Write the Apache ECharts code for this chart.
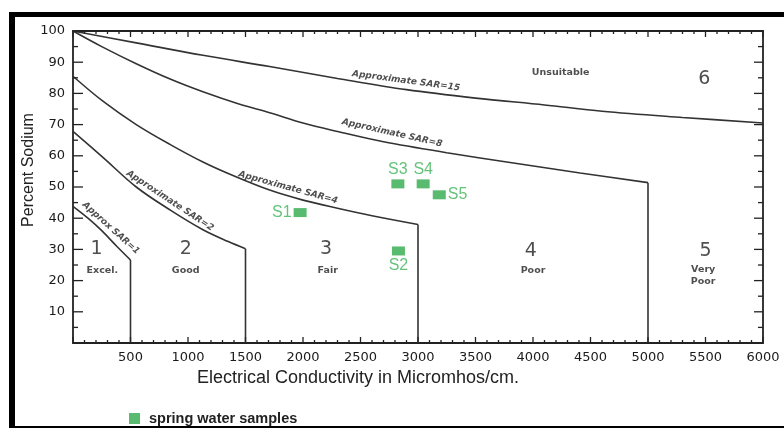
<!DOCTYPE html>
<html><head><meta charset="utf-8">
<script src="https://cdn.jsdelivr.net/npm/echarts@6/dist/echarts.min.js"></script>
<style>
html,body{margin:0;padding:0;background:#fff;overflow:hidden;width:784px;height:428px;}
#frame{position:absolute;left:9px;top:12px;width:800px;height:409px;border-top:5px solid #000;border-left:6px solid #000;border-bottom:2px solid #000;}
#chart{position:absolute;left:0;top:0;width:784px;height:428px;}
</style></head>
<body><div id="frame"></div><div id="chart"></div>
<script>
// Boundary curves (EC micromhos/cm, percent sodium)
const sar15 = [[0,100],[550,96.2],[1130,92.2],[1710,88.6],[2300,84.8],[2900,81.2],[3500,78.5],[4100,76.3],[4600,74.3],[5300,72.3],[6000,70.5]];
const sar8  = [[0,100],[250,95],[550,89.5],[850,84.5],[1130,80.5],[1450,76.5],[1710,73.8],[2000,70.5],[2300,67.8],[2700,64.5],[3250,61],[3830,57.7],[4410,54.5],[5000,51.4]];
const sar4  = [[0,85.5],[260,77.5],[550,70],[850,63.5],[1130,58],[1370,54],[1710,49],[2000,45.8],[2300,43.2],[2600,40.8],[3000,38]];
const sar2  = [[0,67.8],[260,59.5],[550,50],[850,42.5],[1130,36.3],[1350,32.5],[1500,30.2]];
const sar1  = [[0,43.8],[130,40],[250,36],[380,31],[500,26.6]];

// Spring water samples
const sampleNames = ['S1','S2','S3','S4','S5'];
const sampleEC    = [1975, 2830, 2825, 3045, 3185];
const sampleNa    = [41.8, 29.5, 51, 51, 47.5];
const samplePos   = ['left','bottom','top','top','right'];

// Axis ticks
const xMajorTicks = [0,500,1000,1500,2000,2500,3000,3500,4000,4500,5000,5500,6000];
const xMinorTicks = [100,200,300,400,600,700,800,900,1100,1200,1300,1400,1600,1700,1800,1900,
  2100,2200,2300,2400,2600,2700,2800,2900,3100,3200,3300,3400,3600,3700,3800,3900,
  4100,4200,4300,4400,4600,4700,4800,4900,5100,5200,5300,5400,5600,5700,5800,5900];
const yMajorTicks = [0,10,20,30,40,50,60,70,80,90,100];
const yMinorTicks = [5,15,25,35,45,55,65,75,85,95];

// Text annotations
const sarLabels = ['Approximate SAR=15','Approximate SAR=8','Approximate SAR=4','Approximate SAR=2','Approx SAR=1'];
const sarLabelAt = [[2896,84],[2774,67.3],[1870,49.8],[843,45.6],[330,36.8]];
const sarLabelAngle = [-7.7,-12.8,-15.3,-33.5,-42];
const classNums = ['1','2','3','4','5','6'];
const classNumAt = [[205,30],[980,30],[2200,30],[3980,29.5],[5500,29.5],[5490,84.6]];
const classNames = ['Excel.','Good','Fair','Poor','Very\nPoor','Unsuitable'];
const classNameAt = [[255,23.3],[980,23.3],[2215,23.3],[4000,23.3],[5480,21.5],[4240,86.8]];

const X_MIN = 0, X_MAX = 6000, Y_MIN = 0, Y_MAX = 100;

const lineStyle = {color:'#333', width:1.6};
function curve(name, data){
  return {name, type:'line', data, smooth:0.35, symbol:'none', lineStyle, silent:true, z:3};
}
function drop(name, data){
  const last = data[data.length-1];
  return {name, type:'line', data:[last,[last[0],Y_MIN]], symbol:'none', lineStyle, silent:true, z:3};
}
const annData = [];
sarLabels.forEach((t,i)=>annData.push({value:sarLabelAt[i], name:t,
  label:{rotate:sarLabelAngle[i], fontSize:9, fontWeight:'bold', fontStyle:'italic', color:'#222'}}));
classNums.forEach((t,i)=>annData.push({value:classNumAt[i], name:t,
  label:{fontSize:19, color:'#222'}}));
classNames.forEach((t,i)=>annData.push({value:classNameAt[i], name:t,
  label:{fontSize:9.5, fontWeight:'bold', color:'#222', lineHeight:12}}));

function xAx(pos, labels){
  return {type:'value', min:X_MIN, max:X_MAX, interval:500, position:pos,
    axisLine:{show:true, onZero:false, lineStyle:{color:'#222', width:1.8}},
    axisTick:{show:false}, minorTick:{show:false},
    axisLabel:{show:labels, margin:8, color:'#1a1a1a', fontFamily:'DejaVu Sans', fontSize:13,
      formatter:v=>v===0?'':String(v)},
    splitLine:{show:false}};
}
function yAx(pos, labels){
  return {type:'value', min:Y_MIN, max:Y_MAX, interval:10, position:pos,
    axisLine:{show:true, onZero:false, lineStyle:{color:'#222', width:1.8}},
    axisTick:{show:false}, minorTick:{show:false},
    axisLabel:{show:labels, margin:8, color:'#1a1a1a', fontFamily:'DejaVu Sans', fontSize:13,
      formatter:v=>v===0?'':String(v)},
    splitLine:{show:false}};
}

const titleGraphics = [
  {type:'text', x:358, y:378, style:{text:'Electrical Conductivity in Micromhos/cm.', font:'18px "Liberation Sans"', fill:'#222', align:'center', verticalAlign:'middle'}},
  {type:'text', x:29, y:170, rotation:Math.PI/2, style:{text:'Percent Sodium', font:'16px "Liberation Sans"', fill:'#222', align:'center', verticalAlign:'middle'}}
];

const chart = echarts.init(document.getElementById('chart'), null, {renderer:'canvas'});
chart.setOption({
  backgroundColor:'transparent',
  animation:false,
  textStyle:{fontFamily:'DejaVu Sans'},
  grid:{left:73, right:21, top:31, bottom:85},
  xAxis:[xAx('bottom',true), xAx('top',false)],
  yAxis:[yAx('left',true), yAx('right',false)],
  legend:{data:[{name:'spring water samples', icon:'rect'}], left:124, top:406, itemWidth:11, itemHeight:11,
    textStyle:{fontFamily:'Liberation Sans', fontSize:14.5, fontWeight:'bold', color:'#222', padding:[0,0,0,4]}},
  graphic:titleGraphics,
  series:[
    curve('SAR15', sar15), curve('SAR8', sar8), curve('SAR4', sar4), curve('SAR2', sar2), curve('SAR1', sar1),
    drop('d8', sar8), drop('d4', sar4), drop('d2', sar2), drop('d1', sar1),
    {name:'labels', type:'scatter', symbolSize:0, silent:true, z:4, data:annData,
      label:{show:true, position:'inside', formatter:p=>p.name}},
    {name:'spring water samples', type:'scatter', symbol:'rect', symbolSize:[13,9], z:5,
      itemStyle:{color:'#2eaa4c'},
      data:sampleNames.map((n,i)=>({value:[sampleEC[i], sampleNa[i]], name:n,
        label:{show:true, position:samplePos[i], distance:2, formatter:n, color:'#3db35a', fontFamily:'Liberation Sans', fontSize:16}}))}
  ]
});

// Tick marks: positioned through the grid's scales (convertToPixel), lengths in pixels
const finder = {xAxisIndex:0, yAxisIndex:0};
const tickEls = [];
function addTick(val, dx, dy){
  const p = chart.convertToPixel(finder, val);
  tickEls.push({type:'line', silent:true, z:100,
    shape:{x1:p[0], y1:p[1], x2:p[0]+dx, y2:p[1]+dy},
    style:{stroke:'#222', lineWidth:1.3}});
}
xMajorTicks.forEach(v=>{ addTick([v,Y_MIN],0,-6); addTick([v,Y_MAX],0,6); });
xMinorTicks.forEach(v=>{ addTick([v,Y_MIN],0,-3); addTick([v,Y_MAX],0,3); });
yMajorTicks.forEach(v=>{ addTick([X_MIN,v],10,0); addTick([X_MAX,v],-9,0); });
yMinorTicks.forEach(v=>{ addTick([X_MIN,v],5,0); addTick([X_MAX,v],-5,0); });
chart.setOption({graphic: titleGraphics.concat(tickEls)});
</script>
</body></html>
